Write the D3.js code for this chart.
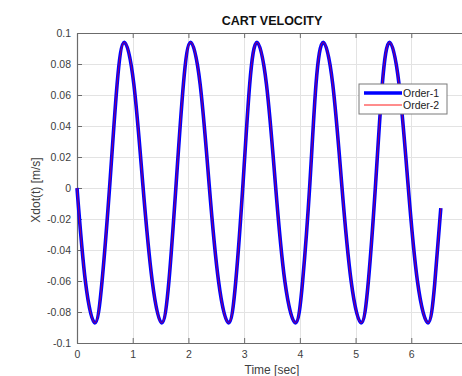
<!DOCTYPE html>
<html>
<head>
<meta charset="utf-8">
<script src="https://cdn.jsdelivr.net/npm/d3@7"></script>
<style>
  body { margin: 0; background: #fff; overflow: hidden; }
  svg { display: block; font-family: "Liberation Sans", Arial, sans-serif; }
</style>
</head>
<body>
<div id="chart"></div>
<script>
// values
const time = [0.00, 0.15, 0.32, 0.45, 0.59, 0.72, 0.85, 1.02, 1.18, 1.35,
  1.52, 1.65, 1.78, 1.91, 2.04, 2.21, 2.37, 2.54, 2.72, 2.85,
  2.98, 3.10, 3.23, 3.40, 3.56, 3.73, 3.92, 4.05, 4.18, 4.29,
  4.42, 4.59, 4.75, 4.92, 5.10, 5.23, 5.36, 5.48, 5.61, 5.78,
  5.94, 6.11, 6.30, 6.42, 6.53];
const order1 = [0.000, -0.060, -0.087, -0.060, 0.003, 0.067, 0.094, 0.067, 0.003, -0.060,
  -0.087, -0.060, 0.003, 0.067, 0.094, 0.067, 0.003, -0.060, -0.087, -0.060,
  0.003, 0.067, 0.094, 0.067, 0.003, -0.060, -0.087, -0.060, 0.003, 0.067,
  0.094, 0.067, 0.003, -0.060, -0.087, -0.060, 0.003, 0.067, 0.094, 0.067,
  0.003, -0.060, -0.087, -0.062, -0.013];
const order2 = [0.000, -0.060, -0.087, -0.060, 0.003, 0.067, 0.094, 0.067, 0.003, -0.060,
  -0.087, -0.060, 0.003, 0.067, 0.094, 0.067, 0.003, -0.060, -0.087, -0.060,
  0.003, 0.067, 0.094, 0.067, 0.003, -0.060, -0.087, -0.060, 0.003, 0.067,
  0.094, 0.067, 0.003, -0.060, -0.087, -0.060, 0.003, 0.067, 0.094, 0.067,
  0.003, -0.060, -0.087, -0.062, -0.013];
const xTicks = [0, 1, 2, 3, 4, 5, 6];
const yTicks = [-0.1, -0.08, -0.06, -0.04, -0.02, 0, 0.02, 0.04, 0.06, 0.08, 0.1];
const seriesNames = ["Order-1", "Order-2"];

const W = 462, H = 376;
const m = {left: 77, top: 33, right: 467, bottom: 343};
const axisColor = "#6b6b6b", gridColor = "#e3e3e3", textColor = "#404040";

let svg = d3.select("#chart").append("svg")
  .attr("width", W).attr("height", H);

// x axis runs to 7, its right end falls just outside the window
let x = d3.scaleLinear().domain([0, 7]).range([m.left, m.right]),
  y = d3.scaleLinear().domain([-0.1, 0.1]).range([m.bottom, m.top]);

// grid
let grid = svg.append("g").attr("stroke", gridColor).attr("stroke-width", 1);
grid.selectAll(".gx").data(xTicks.slice(1)).enter().append("line")
  .attr("x1", d => Math.round(x(d)) + 0.5).attr("x2", d => Math.round(x(d)) + 0.5)
  .attr("y1", m.top).attr("y2", m.bottom);
grid.selectAll(".gy").data(yTicks.slice(1, -1)).enter().append("line")
  .attr("y1", d => Math.round(y(d)) + 0.5).attr("y2", d => Math.round(y(d)) + 0.5)
  .attr("x1", m.left).attr("x2", m.right);

// axes
let fmt = d => d === 0 ? "0" : String(+d.toFixed(2));
let xAxis = d3.axisBottom(x).tickValues(xTicks).tickFormat(fmt).tickSizeInner(-5).tickSizeOuter(0).tickPadding(8),
  xTop = d3.axisTop(x).tickValues(xTicks).tickFormat("").tickSizeInner(-5).tickSizeOuter(0),
  yAxis = d3.axisLeft(y).tickValues(yTicks).tickFormat(fmt).tickSizeInner(-5).tickSizeOuter(0).tickPadding(6);

function style(g) {
  g.select(".domain").attr("stroke", axisColor).attr("stroke-width", 1.2);
  g.selectAll(".tick line").attr("stroke", axisColor);
  g.selectAll(".tick text").attr("fill", textColor)
    .style("font-size", "10.5px").style("font-family", "'Liberation Sans', Arial, sans-serif");
}
svg.append("g").attr("transform", "translate(0," + m.bottom + ")").call(xAxis).call(style);
svg.append("g").attr("transform", "translate(0," + m.top + ")").call(xTop).call(style);
svg.append("g").attr("transform", "translate(" + m.left + ",0)").call(yAxis).call(style);

// lines
let line = vals => d3.line()
  .x((d, i) => x(time[i]))
  .y(d => y(d))
  .curve(d3.curveNatural)(vals);

svg.append("path").attr("d", line(order1))
  .attr("fill", "none").attr("stroke", "#0000ff").attr("stroke-width", 3.6);
svg.append("path").attr("d", line(order2))
  .attr("fill", "none").attr("stroke", "#ff0000").attr("stroke-width", 0.8).attr("opacity", 0.75);

// legend
let lg = svg.append("g").attr("transform", "translate(359,84)");
lg.append("rect").attr("width", 88).attr("height", 30)
  .attr("fill", "#fff").attr("stroke", "#7a7a7a").attr("stroke-width", 1);
let items = lg.selectAll(".item").data(seriesNames).enter().append("g")
  .attr("transform", (d, i) => "translate(0," + (9 + i * 12) + ")");
items.append("line").attr("x1", 5).attr("x2", 43)
  .attr("stroke", (d, i) => i ? "#ff0000" : "#0000ff")
  .attr("stroke-width", (d, i) => i ? 0.9 : 3.6);
items.append("text").attr("x", 44).attr("y", 4).text(d => d)
  .attr("fill", "#222").style("font-size", "10.5px");

// labels
svg.append("text").attr("x", 272).attr("y", 25).attr("text-anchor", "middle")
  .style("font-size", "12.5px").style("font-weight", "bold").attr("fill", "#111")
  .text("CART VELOCITY");
svg.append("text").attr("x", 272).attr("y", 374).attr("text-anchor", "middle")
  .style("font-size", "12px").attr("fill", textColor).text("Time [sec]");
svg.append("text").attr("transform", "translate(40,190) rotate(-90)").attr("text-anchor", "middle")
  .style("font-size", "12px").attr("fill", textColor).text("Xdot(t) [m/s]");
</script>
</body>
</html>
